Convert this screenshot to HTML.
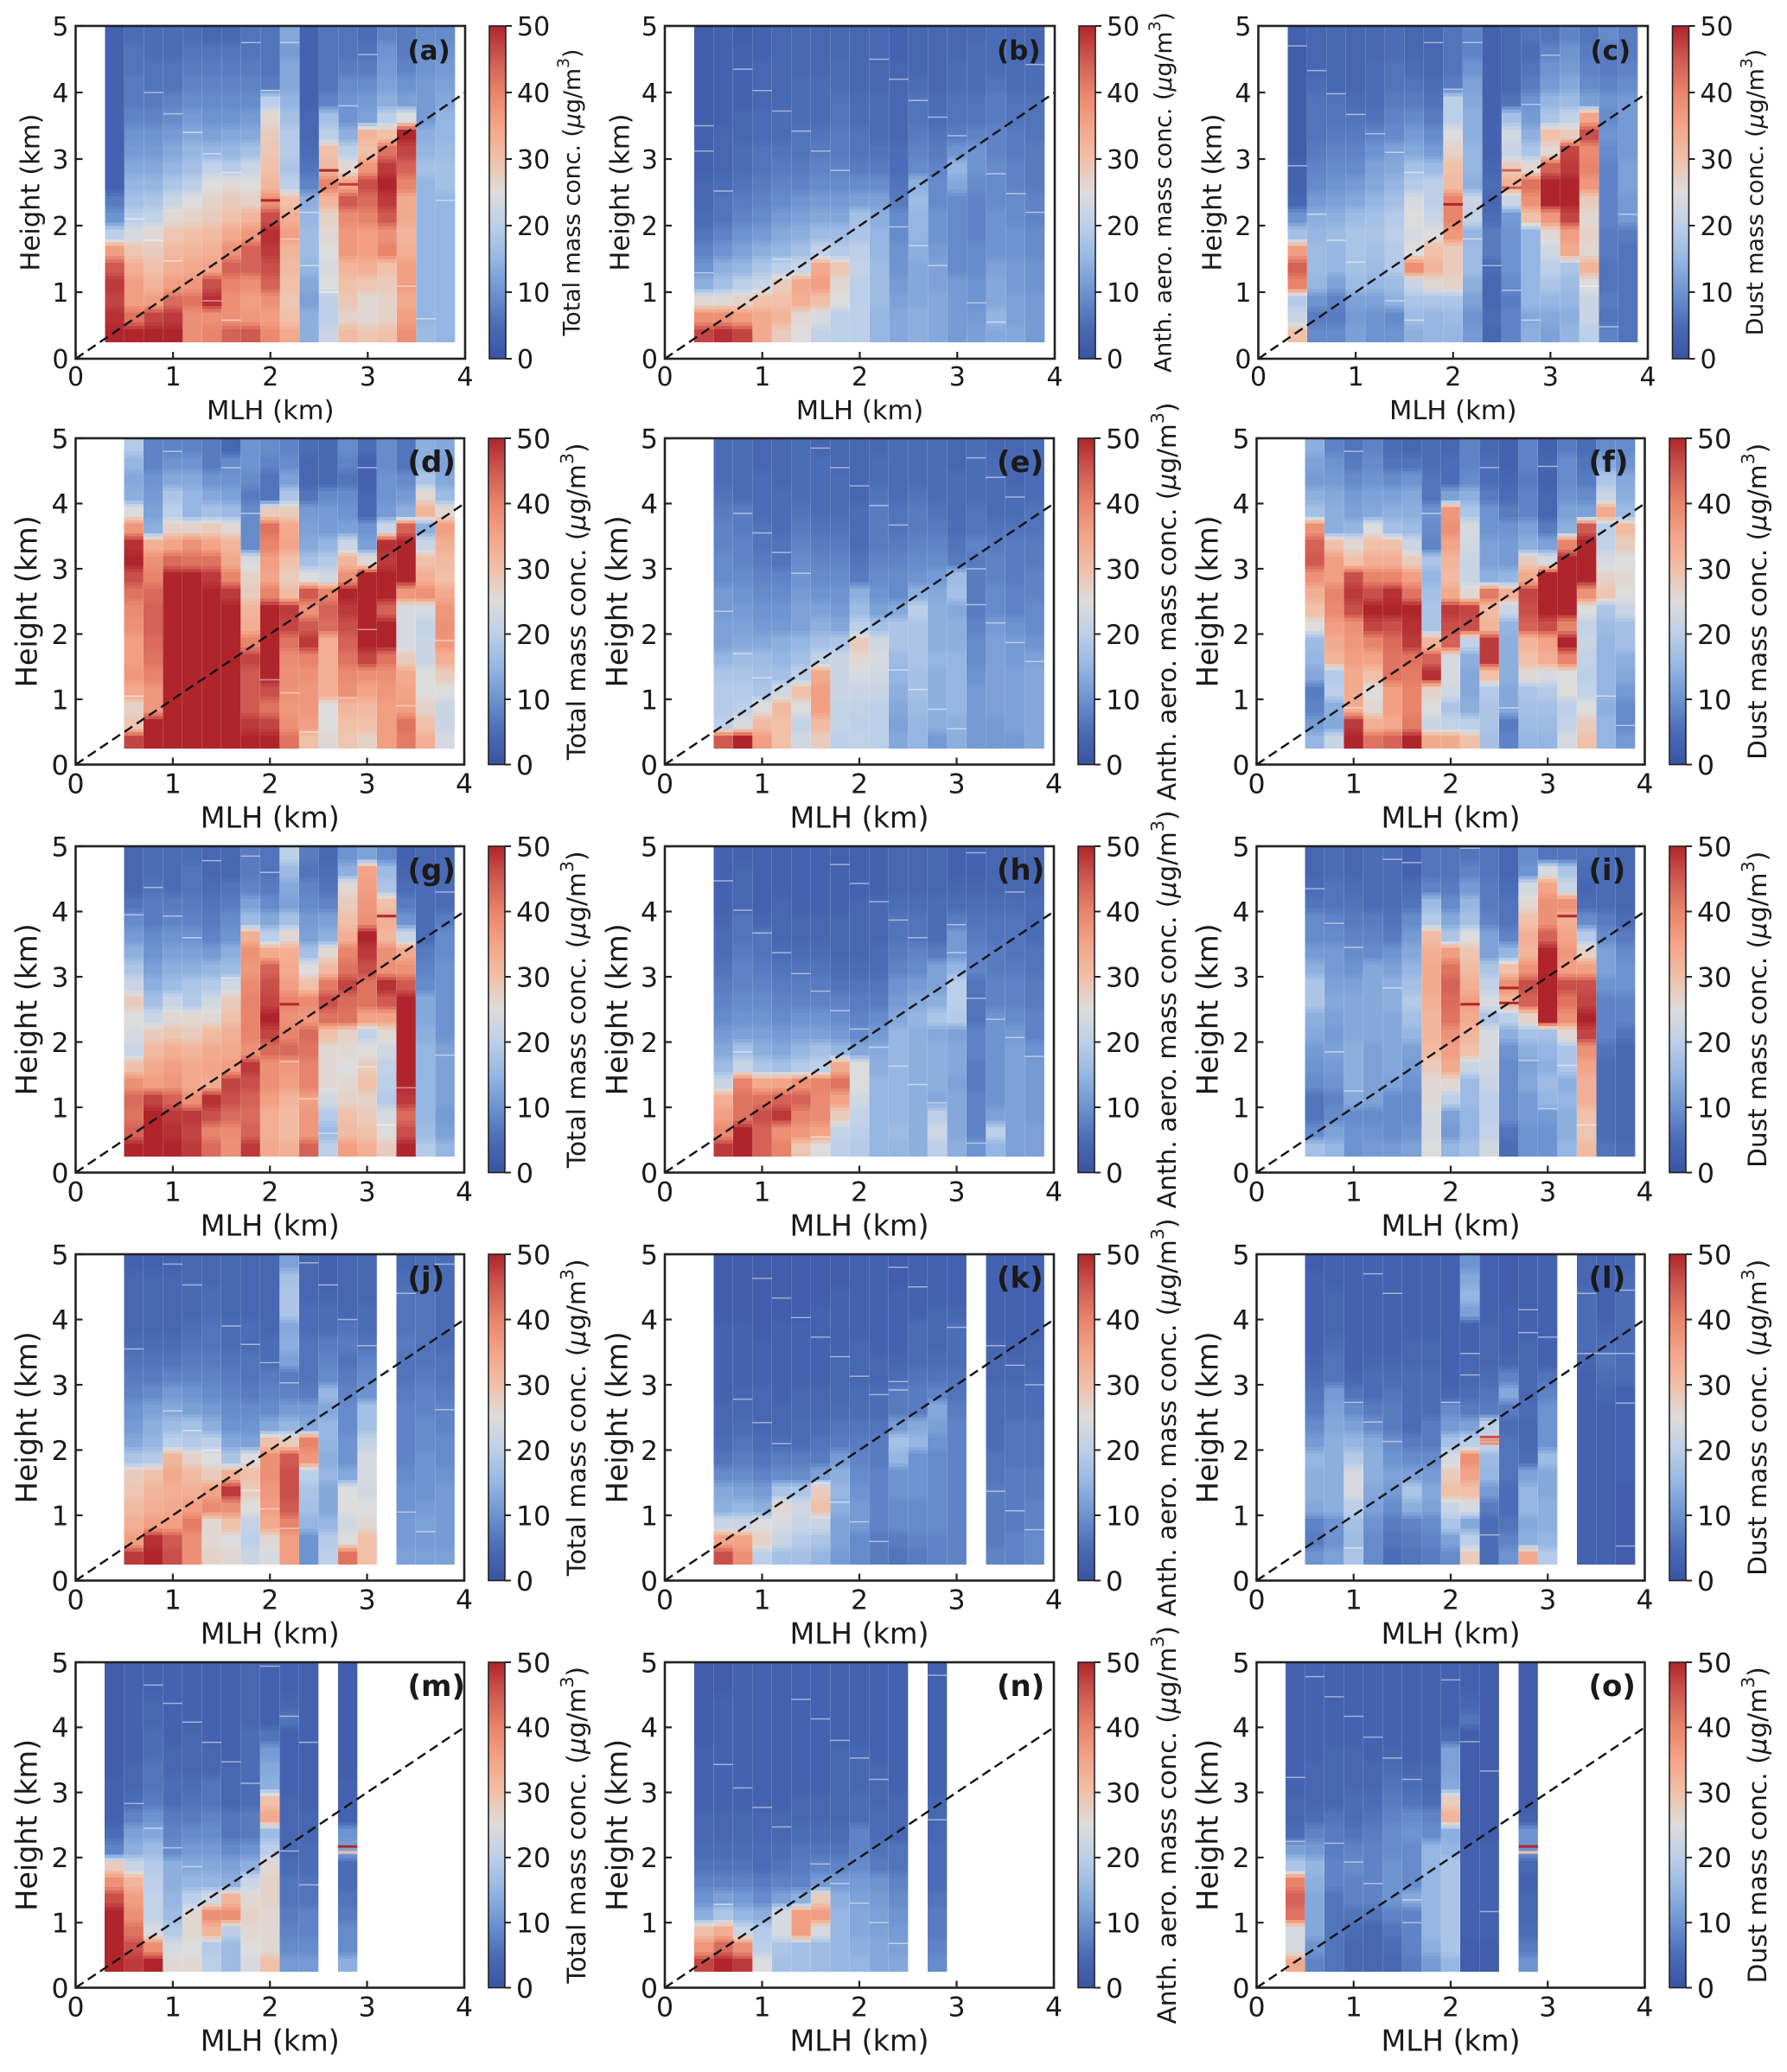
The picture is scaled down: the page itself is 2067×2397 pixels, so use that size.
<!DOCTYPE html>
<html lang="en">
<head>
<meta charset="utf-8">
<title>Mass concentration versus MLH and height</title>
<style>
html,body{margin:0;padding:0;background:#fff;}
svg{display:block;}
text{font-family:"DejaVu Sans","Liberation Sans",sans-serif;fill:#1a1a1a;}
</style>
</head>
<body>
<svg id="figure" xmlns="http://www.w3.org/2000/svg" width="2067" height="2397" viewBox="0 0 2067 2397"></svg>
<script>
// Axis categories (km)
const mlhCenters = [0.4,0.6,0.8,1.0,1.2,1.4,1.6,1.8,2.0,2.2,2.4,2.6,2.8,3.0,3.2,3.4,3.6,3.8];
const heightBins = [0.25,0.5,0.75,1.0,1.25,1.5,1.75,2.0,2.25,2.5,2.75,3.0,3.25,3.5,3.75,4.0,4.25,4.5,4.75];
const xTicks = [0,1,2,3,4];
const yTicks = [0,1,2,3,4,5];
const colorbarTicks = [0,10,20,30,40,50];
const refLine = [0,4];

// Each panel: one array per MLH column, values listed from lowest height bin to highest (µg/m3)
const panelA = [
[50,49,47,48,45,36,20,10,7,3,3,3,3,3,3,3,3,3,3],
[50,42,36,36,33,29,24,20,17,15,13,11,10,8,7,7,6,6,5],
[50,47,36,32,30,28,26,21,18,15,13,11,10,8,7,6,6,5,5],
[50,48,43,36,33,31,29,26,22,18,15,13,11,9,8,6,6,5,5],
[38,38,42,37,34,32,30,27,25,20,17,15,13,11,9,8,7,6,5],
[40,38,49,46,35,33,31,28,27,25,21,15,12,10,9,8,7,6,4],
[44,38,38,40,44,38,34,30,28,26,19,15,13,10,9,8,7,6,4],
[45,37,36,38,44,44,37,32,27,25,22,17,13,11,9,8,7,6,6],
[39,36,38,44,46,48,49,46,38,32,30,29,28,26,20,7,6,6,6],
[34,30,29,30,31,32,36,33,30,20,18,19,19,17,15,13,13,11,13],
[14,14,12,13,15,16,16,15,14,8,6,5,4,4,3,3,3,3,3],
[22,20,20,25,24,25,26,27,32,40,31,30,20,17,8,6,6,6,6],
[31,27,29,30,32,37,37,39,45,35,26,20,14,10,10,9,7,6,6],
[29,26,26,29,33,36,36,40,43,46,37,30,32,12,11,9,7,6,5],
[30,27,27,28,30,40,38,45,48,50,48,42,30,20,14,12,11,10,8],
[38,36,34,36,36,33,32,34,34,40,44,47,50,25,12,10,8,7,7],
[16,15,15,15,15,15,15,15,15,15,17,15,14,11,11,11,10,10,9],
[15,15,15,15,15,15,15,15,15,17,17,16,15,15,13,12,11,10,9]];
const panelB = [
[47,38,26,14,10,8,6,5,4,4,3,3,3,2,2,2,2,2,2],
[49,38,26,17,14,10,8,6,6,5,4,4,4,3,3,3,3,3,3],
[47,36,27,20,15,12,10,8,7,6,5,5,4,4,3,3,3,3,2],
[34,34,30,22,18,14,11,9,8,7,6,6,5,5,4,4,4,3,3],
[28,32,30,28,20,15,13,11,9,8,7,6,5,5,4,4,4,4,4],
[25,26,33,34,22,17,14,12,10,8,7,6,6,5,5,5,4,4,4],
[21,24,30,36,34,21,16,13,11,9,8,7,6,5,5,5,4,4,4],
[20,20,25,26,29,19,16,13,11,9,8,7,7,6,6,5,5,4,4],
[20,20,20,20,21,20,18,17,12,9,7,6,6,5,5,4,4,4,4],
[15,15,16,16,16,15,15,14,12,9,7,6,5,5,5,4,4,4,4],
[13,13,12,11,10,10,9,9,7,6,5,5,4,4,4,4,4,3,3],
[14,14,13,13,13,14,15,15,16,14,9,8,7,6,6,5,4,4,4],
[13,13,13,12,12,11,10,10,9,9,8,7,6,5,5,4,4,4,4],
[11,11,11,11,9,9,9,9,9,13,15,10,7,6,6,5,5,4,4],
[12,11,10,10,9,9,8,8,8,9,10,10,8,6,6,5,5,5,4],
[13,15,13,13,12,10,10,10,9,9,9,8,8,7,7,6,5,5,5],
[13,12,12,11,11,10,10,9,9,8,8,7,7,6,6,5,5,5,4],
[11,11,11,10,10,9,9,8,8,7,7,7,6,6,6,5,5,4,4]];
const panelC = [
[30,22,19,40,44,36,17,10,4,3,3,2,2,2,2,2,2,2,3],
[9,7,10,15,16,16,15,14,11,9,8,7,6,6,6,5,4,4,4],
[9,7,8,12,15,15,16,14,12,10,9,8,7,6,6,4,4,4,4],
[12,11,12,16,17,18,18,16,13,11,9,8,7,6,5,4,4,4,4],
[10,10,12,15,16,17,18,17,15,13,12,10,8,6,5,5,5,4,4],
[10,9,14,16,19,19,20,19,17,15,13,12,9,8,7,6,6,5,5],
[14,16,18,22,38,25,24,25,24,19,17,13,11,9,7,6,5,4,4],
[15,15,18,26,32,30,25,22,20,20,16,11,9,7,6,5,4,4,4],
[15,16,18,27,28,28,37,40,40,31,30,27,25,20,20,7,6,6,6],
[11,10,12,14,16,16,15,21,22,14,15,15,14,14,13,12,10,8,8],
[4,5,4,4,5,7,7,5,4,5,4,3,3,3,3,3,3,3,3],
[8,8,7,9,10,10,10,11,22,33,28,22,23,17,6,4,4,4,4],
[14,13,15,15,15,15,15,30,38,42,26,18,14,11,10,7,6,5,6],
[12,13,15,18,20,23,26,37,50,50,44,26,30,18,15,11,10,8,6],
[15,14,15,16,18,34,36,47,50,50,48,47,28,21,16,13,11,10,8],
[20,22,22,25,32,26,27,26,28,37,40,39,46,35,12,9,8,7,6],
[8,6,7,6,6,7,7,8,8,8,8,9,10,9,10,8,7,7,9],
[6,6,6,6,6,6,7,11,11,12,12,11,11,11,11,9,8,7,7]];
const panelD = [
null,
[47,29,27,34,37,36,36,38,39,42,46,50,49,37,25,14,13,15,19],
[50,50,37,37,40,42,43,44,44,43,40,38,33,14,12,11,10,8,8],
[50,50,50,50,50,50,50,50,50,50,50,43,35,27,20,18,13,10,8],
[50,50,50,50,50,50,50,50,50,50,50,42,38,27,15,15,13,10,8],
[50,50,50,50,50,50,50,50,50,50,48,42,35,28,17,13,10,7,7],
[50,50,50,50,50,50,50,50,50,48,40,34,32,26,16,12,10,9,4],
[50,48,45,45,45,47,40,33,32,28,27,24,9,9,9,7,9,10,10],
[50,47,42,46,50,50,50,50,50,40,35,36,40,42,28,6,6,8,9],
[42,38,37,38,38,39,42,47,48,31,28,30,35,34,28,18,12,9,8],
[30,36,37,37,38,40,48,45,38,45,25,17,13,12,11,6,4,4,5],
[26,25,25,33,33,33,33,43,44,40,23,19,15,11,11,9,4,4,4],
[29,30,32,38,39,42,44,46,48,50,38,32,22,12,10,9,6,8,9],
[27,30,31,35,38,47,50,50,50,50,50,26,12,10,4,4,3,3,5],
[36,36,36,37,38,42,50,50,44,50,50,48,49,22,11,10,10,9,9],
[41,42,36,35,34,28,24,24,24,37,50,50,50,44,14,11,9,6,6],
[33,30,27,25,25,22,22,21,24,38,33,30,22,14,32,26,18,14,14],
[24,22,22,25,28,33,37,38,37,34,30,31,33,36,26,16,13,12,13]];
const panelE = [
null,
[45,20,19,19,18,15,12,12,11,11,9,9,8,8,7,6,5,5,5],
[50,24,20,19,18,16,13,12,11,10,9,8,8,7,7,5,5,5,5],
[36,31,25,18,17,16,13,11,10,9,8,7,6,6,5,5,5,4,4],
[30,30,31,23,17,15,14,11,10,9,8,6,6,5,5,5,4,4,4],
[23,21,25,30,20,17,15,12,12,11,10,9,8,7,6,5,5,5,5],
[28,31,36,36,34,21,17,14,12,10,9,8,7,6,5,5,5,5,4],
[20,21,21,22,22,22,18,13,11,10,9,8,7,6,5,5,5,4,4],
[21,20,21,22,24,26,28,20,16,14,7,6,5,5,5,4,4,4,4],
[20,20,20,22,23,24,23,17,12,10,9,8,7,7,7,6,5,5,4],
[13,12,13,14,15,16,18,18,13,9,9,8,7,6,6,5,5,5,5],
[15,15,16,17,17,18,18,18,20,14,10,9,8,7,7,6,5,5,5],
[11,14,14,14,14,15,14,14,14,13,11,9,8,7,6,5,5,5,5],
[14,14,15,15,15,15,14,14,13,17,16,7,6,5,5,5,5,4,4],
[11,11,11,11,10,9,9,8,7,7,7,7,8,6,6,5,5,5,5],
[11,11,12,12,12,12,12,11,9,9,8,8,7,6,5,5,5,5,4],
[11,12,12,12,12,11,11,10,8,8,7,7,7,6,5,5,4,4,4],
[13,13,13,13,13,12,10,9,9,8,8,7,7,6,6,5,5,5,5]];
const panelF = [
null,
[15,11,8,7,13,15,16,25,30,33,38,45,44,38,17,14,11,12,14],
[22,13,14,20,19,32,34,36,39,40,36,36,30,14,14,13,11,10,8],
[50,48,34,34,34,36,37,38,46,48,46,30,26,15,12,11,9,7,6],
[42,33,26,25,30,35,40,47,50,46,40,33,30,25,13,12,10,9,8],
[44,34,36,36,42,42,43,46,50,49,40,33,30,17,14,12,9,6,5],
[50,41,40,40,41,42,48,49,50,42,36,28,22,16,14,13,10,6,4],
[34,22,25,27,49,44,32,18,18,17,15,18,8,9,10,6,6,5,5],
[34,21,18,23,24,24,44,46,48,34,31,32,35,38,37,12,5,5,4],
[30,20,14,13,13,14,21,46,47,26,22,22,23,24,18,14,9,8,8],
[17,18,18,19,30,48,48,32,31,41,14,12,12,10,10,7,5,5,4],
[8,7,13,13,14,14,14,15,22,33,15,11,11,10,7,5,4,3,3],
[15,16,17,18,26,30,32,44,46,47,34,28,14,12,8,8,7,8,8],
[15,16,17,19,24,33,35,46,50,50,50,24,12,7,4,4,3,4,3],
[24,21,20,25,25,40,50,40,50,50,50,50,40,14,12,10,9,9,7],
[30,28,25,21,20,21,22,21,25,38,50,50,50,45,12,9,7,6,5],
[15,15,14,15,15,15,15,16,18,29,27,24,21,20,34,22,18,13,9],
[11,9,9,11,13,14,17,17,22,25,26,25,28,31,16,14,13,10,9]];
const panelG = [
null,
[50,44,42,43,38,30,22,24,25,28,22,18,14,11,9,6,4,4,4],
[50,50,50,47,36,34,31,28,22,17,14,12,10,9,7,7,6,5,5],
[50,49,48,44,37,36,33,29,26,22,16,14,12,10,8,7,5,5,5],
[48,47,48,38,34,34,32,28,26,19,18,14,12,10,8,7,6,6,5],
[43,40,46,49,34,35,34,31,26,23,19,15,11,8,7,6,5,4,4],
[38,39,43,46,47,36,34,33,30,28,23,16,14,10,9,7,6,4,4],
[48,44,43,44,46,48,38,40,40,40,39,37,38,33,16,12,8,7,7],
[34,33,33,36,38,38,43,47,50,47,46,44,34,20,13,9,7,6,6],
[33,31,31,32,36,37,43,40,38,40,36,34,33,26,17,12,13,16,20],
[44,37,37,36,40,40,42,43,37,39,30,25,17,12,11,9,8,6,7],
[20,16,19,23,26,26,26,30,42,46,41,31,26,14,12,8,6,5,4],
[36,31,30,27,26,25,26,27,42,43,47,42,40,33,30,28,26,14,10],
[33,30,28,27,30,28,25,21,35,42,42,46,48,50,38,37,36,35,12],
[28,25,24,19,20,21,23,26,35,45,49,38,38,32,33,30,18,16,9],
[50,46,43,48,50,50,50,50,50,50,45,38,34,22,10,7,5,4,3],
[19,16,15,15,15,15,15,14,13,13,9,8,7,5,5,5,5,4,4],
[15,12,11,12,12,12,12,10,10,10,10,10,9,9,7,5,5,5,4]];
const panelH = [
null,
[48,39,36,33,22,16,13,11,9,8,7,6,5,5,4,3,3,3,3],
[50,50,42,42,40,22,17,12,10,9,8,8,7,6,6,4,4,4,3],
[44,44,46,42,34,18,14,12,10,9,8,7,6,6,4,3,3,3,3],
[40,38,48,44,35,17,13,11,9,8,7,6,5,4,4,4,3,3,3],
[29,37,40,44,38,19,15,12,10,8,7,6,5,4,4,3,3,3,3],
[25,35,39,39,40,20,17,12,10,8,7,6,5,4,4,3,3,3,3],
[20,21,28,35,42,34,15,11,9,8,6,5,4,4,4,3,3,3,3],
[19,20,21,23,25,25,13,9,8,7,6,5,4,4,4,4,3,3,3],
[15,15,15,15,15,14,13,11,9,7,6,5,5,4,4,4,3,3,3],
[15,16,15,15,15,15,15,15,13,11,10,8,7,6,6,5,4,4,4],
[14,14,14,14,14,14,14,14,15,13,11,9,8,6,6,5,4,4,4],
[20,23,20,13,14,14,14,13,18,14,12,12,7,5,5,5,4,4,4],
[14,13,13,13,12,13,13,12,19,20,20,15,11,11,7,5,4,3,3],
[10,8,8,8,7,7,8,8,6,6,6,8,8,7,6,5,4,3,3],
[15,20,12,10,10,10,10,10,10,8,8,7,7,6,6,5,4,4,4],
[12,12,12,12,12,12,12,11,9,8,8,7,6,6,6,5,4,4,4],
[12,12,11,11,11,11,10,8,8,7,7,6,6,5,5,5,4,4,4]];
const panelI = [
null,
[17,9,6,6,9,10,11,13,14,18,18,14,11,9,9,6,5,4,4],
[15,12,9,8,10,11,12,11,12,13,12,11,11,9,8,6,6,5,5],
[10,10,9,13,14,14,14,13,13,13,12,10,9,8,7,6,5,4,4],
[11,10,9,12,12,12,12,13,13,13,13,13,9,8,7,5,5,5,5],
[11,9,9,9,12,13,13,13,13,14,14,12,10,7,6,5,5,5,5],
[12,10,9,9,10,11,12,15,17,19,17,15,13,11,9,6,5,3,3],
[25,24,24,26,26,28,31,32,32,33,34,34,33,31,19,16,8,6,6],
[15,11,12,20,26,34,36,38,42,43,44,42,36,18,13,9,7,6,6],
[17,15,15,16,16,22,30,32,34,36,33,31,29,25,17,15,11,8,6],
[23,21,20,20,22,23,24,24,18,24,21,18,12,12,8,7,7,6,6],
[5,6,9,9,9,9,10,14,20,32,38,30,15,8,6,6,5,4,4],
[10,10,11,11,13,12,14,17,27,44,46,38,32,33,30,26,23,10,9],
[10,10,11,15,16,14,15,17,50,50,50,50,50,44,38,38,35,24,6],
[15,14,14,15,14,18,18,26,38,42,46,36,37,35,33,38,22,18,6],
[31,29,30,33,33,35,38,47,50,47,46,36,27,19,9,5,4,5,6],
[6,5,5,5,5,5,6,8,8,8,10,12,12,9,7,5,5,5,5],
[5,4,4,4,4,4,4,6,8,8,10,10,9,7,5,4,4,4,4]];
const panelJ = [
null,
[48,36,33,31,29,28,18,13,11,10,8,7,6,5,4,4,4,4,3],
[50,49,36,33,32,30,19,15,14,12,9,7,6,5,4,4,4,4,3],
[46,45,36,34,33,34,32,20,16,13,11,8,6,5,4,4,4,4,3],
[38,38,41,36,33,31,27,19,17,12,10,8,7,6,5,4,4,4,4],
[27,26,26,39,35,28,25,20,14,11,9,8,7,6,6,5,5,4,4],
[26,25,30,38,48,33,18,13,10,9,8,7,6,5,5,4,4,4,4],
[22,20,21,25,28,30,25,12,10,9,7,6,6,5,5,4,4,4,4],
[24,26,34,36,37,38,38,30,13,9,8,7,5,5,4,4,4,4,4],
[36,36,40,45,46,46,45,28,15,11,8,7,12,14,13,18,18,17,12],
[10,10,15,17,18,20,37,40,13,11,7,6,6,6,5,5,4,4,4],
[20,19,15,13,13,15,14,15,15,13,15,9,8,7,5,5,4,3,3],
[42,25,23,25,25,13,10,10,9,9,8,7,6,7,6,4,4,4,4],
[30,30,26,25,23,24,24,21,17,17,10,9,8,6,5,5,4,4,4],
null,
[12,11,11,10,10,9,8,8,8,8,7,6,6,7,6,6,6,5,4],
[12,11,12,11,10,10,10,9,9,8,8,7,6,6,6,6,6,6,5],
[12,11,11,11,11,10,9,9,8,8,7,6,6,5,5,5,5,5,5]];
const panelK = [
null,
[46,35,22,14,13,9,6,5,4,4,3,3,3,3,3,2,2,2,2],
[38,35,22,15,12,9,7,6,5,4,4,3,3,3,3,2,2,2,2],
[20,27,25,14,11,8,6,5,4,4,4,3,3,3,2,2,2,2,2],
[17,22,24,26,18,9,7,5,4,4,3,3,3,3,3,2,2,2,2],
[17,19,22,23,18,9,7,5,5,4,4,3,3,3,3,2,2,2,2],
[15,18,22,30,28,12,7,6,5,4,4,3,3,3,3,3,2,2,2],
[11,12,12,14,15,14,11,7,6,5,4,4,4,3,3,3,3,2,2],
[9,9,11,11,10,9,8,7,6,5,5,4,4,4,3,3,3,3,3],
[7,7,8,8,8,8,7,7,6,5,5,4,4,3,3,3,3,3,3],
[6,7,9,9,10,10,15,17,11,7,7,5,4,3,3,3,3,2,2],
[7,8,9,9,10,10,10,15,13,7,7,6,5,5,5,3,3,3,3],
[8,8,9,9,9,9,9,10,12,13,8,6,5,4,4,4,3,3,3],
[8,8,8,8,8,8,8,8,8,7,6,6,5,5,5,4,3,3,3],
null,
[8,7,7,7,7,6,6,5,5,5,5,4,4,4,3,3,3,3,3],
[8,8,7,7,7,7,6,6,6,5,5,4,4,3,3,3,3,3,3],
[9,9,8,8,7,7,6,6,6,5,5,5,4,4,3,3,3,3,3]];
const panelL = [
null,
[10,7,8,13,14,14,15,11,9,7,6,5,4,3,3,3,3,3,2],
[12,10,10,14,14,14,14,14,13,12,11,6,6,5,4,4,4,3,3],
[18,16,17,20,24,24,19,15,12,9,6,4,3,3,3,3,3,3,3],
[9,9,10,12,13,14,14,13,9,7,5,5,4,3,3,3,3,3,3],
[5,6,7,9,11,12,10,9,7,7,6,5,4,3,3,3,3,3,3],
[6,7,8,14,18,12,9,7,5,5,5,5,4,4,3,3,3,3,3],
[7,8,9,12,13,11,9,7,7,5,5,5,4,4,3,3,3,3,3],
[9,12,18,22,30,28,24,17,11,9,4,3,3,3,3,3,3,3,3],
[28,20,13,24,30,35,38,20,12,7,5,4,4,3,3,12,15,13,10],
[5,5,5,7,11,15,16,22,20,7,6,5,4,4,4,3,3,3,3],
[10,8,6,5,5,6,6,6,5,7,13,8,4,3,3,3,2,2,2],
[34,14,13,15,15,12,5,4,4,5,4,4,4,4,3,3,3,3,3],
[19,15,14,14,13,13,16,10,10,10,8,6,3,3,3,3,3,3,3],
null,
[3,3,3,3,3,3,3,3,3,3,3,3,4,5,5,5,5,4,4],
[3,3,3,3,3,3,3,3,3,3,4,5,6,5,4,3,3,3,3],
[2,2,2,2,2,3,3,3,3,3,3,5,5,5,5,5,5,5,4]];
const panelM = [
[50,50,50,50,46,38,28,8,5,3,3,3,2,2,2,2,2,2,2],
[48,46,42,38,36,32,22,14,12,8,5,4,4,3,3,3,3,3,3],
[50,38,24,21,21,20,19,16,13,10,7,6,6,5,5,4,4,3,3],
[26,24,19,16,15,14,14,9,8,7,5,5,4,4,3,3,3,3,3],
[26,25,26,26,20,15,13,11,9,7,6,5,4,4,4,3,3,3,3],
[20,19,32,38,23,15,13,11,9,8,6,6,4,4,3,3,3,3,3],
[16,16,20,38,32,14,12,9,6,6,4,4,4,3,3,3,3,3,3],
[24,25,26,27,26,22,14,10,7,7,5,5,5,5,5,4,4,4,4],
[30,26,26,26,27,27,26,20,16,34,30,14,13,11,6,3,3,3,3],
[11,9,8,7,6,6,5,4,4,4,4,3,3,3,3,6,4,3,3],
[11,9,8,8,6,6,5,5,4,4,3,3,3,3,3,3,3,3,3],
null,
[14,9,9,7,6,5,5,12,10,3,3,3,2,2,2,2,2,2,2],
null,null,null,null,null];
const panelN = [
[47,37,30,14,10,8,6,5,4,4,3,3,3,3,2,2,2,2,2],
[50,43,33,18,12,8,6,5,4,4,3,3,3,3,3,3,3,2,2],
[48,38,22,15,11,8,6,5,4,4,3,3,3,3,3,3,3,3,3],
[25,20,19,14,9,7,5,5,4,4,3,3,3,3,3,3,3,3,3],
[17,18,24,24,12,8,6,5,4,4,3,3,3,3,3,3,3,3,3],
[17,17,36,36,14,8,7,6,5,4,4,3,3,3,3,3,3,3,3],
[16,16,24,36,28,11,8,6,5,4,4,3,3,3,3,3,3,3,3],
[15,15,15,15,14,11,8,6,5,4,4,4,4,4,3,3,3,3,3],
[15,14,13,13,12,11,9,8,8,5,5,4,4,4,3,3,3,3,3],
[13,13,12,12,11,10,7,6,5,5,4,4,4,3,3,3,3,3,3],
[13,12,11,10,9,8,6,6,4,4,4,3,3,3,3,3,3,3,3],
null,
[9,8,7,7,6,5,5,5,4,4,4,3,3,3,3,3,3,3,3],
null,null,null,null,null];
const panelO = [
[34,24,24,42,44,40,18,12,5,4,4,3,3,3,3,3,3,3,3],
[8,10,13,13,13,14,15,11,8,5,4,4,4,3,3,3,3,3,3],
[6,6,6,6,6,8,8,7,7,6,4,4,4,4,3,3,3,3,3],
[4,4,5,6,8,8,9,8,6,5,5,4,4,4,3,3,3,3,3],
[4,4,4,6,8,8,8,8,7,6,5,4,4,3,3,3,3,3,3],
[4,5,6,8,10,10,10,9,9,8,7,6,5,4,3,3,3,3,3],
[7,8,8,8,13,9,9,9,10,9,6,5,4,3,3,3,3,3,3],
[11,14,15,15,15,15,15,15,9,8,5,4,4,3,3,3,3,3,3],
[15,18,18,18,18,18,18,15,14,32,28,13,12,12,5,3,3,3,3],
[2,2,3,3,3,3,3,3,2,2,2,2,2,2,2,6,4,3,3],
[2,2,3,3,3,3,3,3,2,2,2,2,2,2,2,2,2,2,2],
null,
[10,7,5,4,4,3,4,10,10,3,2,2,2,2,2,2,2,2,2],
null,null,null,null,null];

// Thin pale lines visible in each panel: [MLH km, height km]
const paleLinesA = [[0.6,2.1],[0.8,4.0],[0.8,1.78],[1.0,3.68],[1.0,1.47],[1.2,3.4],[1.4,3.08],[1.4,0.87],[1.6,2.8],[1.6,0.58],[1.8,4.75],[2.0,4.03],[2.2,4.75],[2.2,1.8],[2.4,1.4],[2.4,2.2],[2.6,1.0],[2.8,3.8],[3.0,4.57],[3.4,1.09],[3.6,0.6],[3.8,2.38]];
const paleLinesB = [[0.4,3.5],[0.4,3.12],[0.4,1.29],[0.6,2.52],[0.8,4.35],[1.0,4.03],[1.2,3.72],[1.2,1.5],[1.4,3.42],[1.6,3.12],[1.8,2.83],[2.2,4.5],[2.4,4.2],[2.4,1.98],[2.6,3.88],[2.6,1.7],[2.8,3.63],[2.8,1.4],[3.0,3.35],[3.2,0.84],[3.4,2.78],[3.4,0.55],[3.6,2.48],[3.8,4.42],[3.8,2.2]];
const paleLinesC = [[0.4,4.7],[0.4,2.9],[0.6,4.33],[0.6,2.17],[0.8,3.98],[0.8,1.78],[1.0,3.67],[1.0,1.45],[1.2,3.38],[1.4,3.1],[1.4,0.87],[1.6,2.8],[1.6,0.58],[1.8,4.75],[2.0,4.05],[2.2,4.75],[2.2,1.8],[2.4,1.4],[2.6,1.03],[2.8,3.82],[2.8,0.58],[3.0,4.56],[3.4,1.09],[3.6,0.48],[3.8,2.17]];
const paleLinesD = [[0.6,1.05],[1.0,4.8],[1.6,4.55],[1.8,3.85],[2.0,1.3],[2.2,1.1],[2.4,0.5],[2.8,1.02],[3.0,4.55],[3.0,2.07],[3.4,0.9],[3.8,1.9]];
const paleLinesE = [[0.6,2.35],[0.8,3.85],[0.8,1.7],[1.0,3.55],[1.0,1.33],[1.2,3.25],[1.4,2.93],[1.6,4.85],[1.8,4.55],[2.0,4.27],[2.2,3.97],[2.4,3.67],[2.4,1.45],[2.6,1.15],[2.8,0.85],[3.0,0.55],[3.2,4.7],[3.2,3.0],[3.2,2.45],[3.4,4.4],[3.4,2.17],[3.6,4.1],[3.6,1.87],[3.8,1.58]];
const paleLinesF = [[1.0,4.8],[1.0,0.87],[1.8,3.85],[2.4,4.55],[2.6,0.87],[3.0,4.57],[3.6,1.05],[3.8,0.6]];
const paleLinesG = [[0.6,3.95],[0.8,4.37],[1.0,3.93],[1.2,3.6],[1.4,4.78],[1.6,2.98],[1.8,4.85],[2.0,4.6],[2.2,1.7],[2.4,1.13],[2.6,0.6],[3.0,1.62],[3.2,0.73],[3.4,1.3],[3.8,4.3],[3.8,1.8]];
const paleLinesH = [[0.6,4.47],[0.8,4.02],[0.8,1.85],[1.0,3.67],[1.2,3.37],[1.4,3.05],[1.6,2.78],[1.6,0.55],[1.8,4.72],[1.8,2.48],[2.0,4.43],[2.0,2.2],[2.2,4.15],[2.2,1.92],[2.4,3.87],[2.4,1.63],[2.6,3.6],[2.6,1.35],[2.8,1.07],[3.0,3.8],[3.0,3.37],[3.2,4.9],[3.2,2.67],[3.2,0.45],[3.4,2.35],[3.6,4.3],[3.6,2.07],[3.8,1.78]];
const paleLinesI = [[0.6,4.35],[0.8,3.82],[0.8,1.85],[1.0,3.45],[1.0,1.25],[1.4,4.8],[1.4,2.83],[1.6,4.75],[2.2,4.97],[2.8,1.72],[3.0,0.98],[3.2,1.64],[3.4,0.73]];
const paleLinesJ = [[0.6,3.55],[1.0,4.85],[1.0,2.6],[1.2,4.53],[1.2,2.3],[1.4,2.0],[1.6,3.9],[1.8,3.62],[1.8,1.38],[2.0,3.34],[2.0,1.1],[2.2,3.03],[2.2,0.8],[2.4,4.87],[2.6,4.53],[2.8,4.0],[3.0,3.6],[3.4,4.4],[3.4,1.05],[3.6,0.75],[3.8,4.85],[3.8,2.62]];
const paleLinesK = [[0.8,2.78],[1.0,4.63],[1.0,2.42],[1.2,4.33],[1.2,2.1],[1.4,4.03],[1.6,3.73],[1.6,1.5],[1.8,3.43],[1.8,1.2],[2.0,3.13],[2.0,0.9],[2.2,2.85],[2.2,0.6],[2.4,4.8],[2.4,3.05],[2.4,2.92],[2.6,4.5],[3.0,3.88],[3.4,3.6],[3.4,1.37],[3.6,3.3],[3.6,1.07],[3.8,3.0],[3.8,0.78]];
const paleLinesL = [[1.0,2.73],[1.0,0.5],[1.2,4.7],[1.2,2.43],[1.4,4.4],[1.4,2.13],[2.0,2.73],[2.2,3.48],[2.2,3.15],[2.4,0.7],[2.8,4.15],[2.8,3.8],[3.0,3.73],[3.4,4.4],[3.8,4.45],[3.8,2.72],[3.8,0.53],[3.4,3.48],[3.6,3.48],[3.8,3.48]];
const paleLinesM = [[0.6,2.83],[0.8,4.65],[0.8,2.45],[1.0,4.37],[1.0,2.15],[1.2,4.08],[1.2,1.86],[1.4,3.77],[1.6,3.47],[1.8,3.14],[2.0,4.94],[2.2,4.17],[2.2,2.1],[2.4,3.77],[2.4,1.58]];
const paleLinesN = [[0.6,3.43],[0.6,1.28],[0.8,3.07],[1.0,2.77],[1.2,2.47],[1.4,4.43],[1.6,4.13],[1.6,1.9],[1.8,3.8],[1.8,1.6],[2.0,3.53],[2.0,1.3],[2.2,3.2],[2.2,1.0],[2.4,0.68],[2.8,4.8],[2.8,2.58]];
const paleLinesO = [[0.4,3.23],[0.4,2.25],[0.6,4.78],[0.8,4.47],[0.8,2.22],[1.0,4.17],[1.0,1.93],[1.2,3.85],[1.2,1.6],[1.4,3.53],[1.6,3.2],[1.6,1.35],[1.6,1.0],[2.0,4.73],[2.2,3.78],[2.4,3.33],[2.4,1.17]];

// Narrow high-concentration layers: [MLH km, height km, value]
const layersA = [[2.6,2.83,50],[2.8,2.62,48],[2.0,2.38,50]];
const layersC = [[2.6,2.83,44],[2.6,2.57,44],[2.0,2.32,50]];
const layersG = [[3.2,3.93,50],[2.2,2.58,50]];
const layersI = [[3.2,3.93,50],[2.6,2.6,50],[2.2,2.58,50],[2.6,2.83,50]];
const layersL = [[2.4,2.2,46],[2.4,2.15,38],[2.4,2.1,38]];
const layersM = [[2.8,2.17,50],[2.8,2.08,30]];
const layersO = [[2.8,2.17,50],[2.8,2.08,30]];

const panelSeries = [panelA,panelB,panelC,panelD,panelE,panelF,panelG,panelH,panelI,panelJ,panelK,panelL,panelM,panelN,panelO];
const panelPaleLines = [paleLinesA,paleLinesB,paleLinesC,paleLinesD,paleLinesE,paleLinesF,paleLinesG,paleLinesH,paleLinesI,paleLinesJ,paleLinesK,paleLinesL,paleLinesM,paleLinesN,paleLinesO];
const panelLayers = [layersA,[],layersC,[],[],[],layersG,[],layersI,[],[],layersL,layersM,[],layersO];
const panelLetters = ['(a)','(b)','(c)','(d)','(e)','(f)','(g)','(h)','(i)','(j)','(k)','(l)','(m)','(n)','(o)'];
const colorbarTitles = ['Total mass conc. ','Anth. aero. mass conc. ','Dust mass conc. '];

const mlhBinWidth = 0.2;
const heightBinWidth = 0.25;
const xMax = 4;
const yMax = 5;
const valueMax = 50;

// Colour scale (value, colour)
const colorStops = [[0,'#3a53a4'],[5,'#4b6cb6'],[10,'#6d93d0'],[15,'#95b6e2'],[20,'#bccfe9'],[25,'#dcdcdc'],[30,'#f0c0a8'],[35,'#f3a488'],[40,'#e8846a'],[45,'#cf5a52'],[50,'#b0252c']];

function hexToRgb(h){return [parseInt(h.slice(1,3),16),parseInt(h.slice(3,5),16),parseInt(h.slice(5,7),16)];}
function colorFor(v){
  const c=Math.max(0,Math.min(valueMax,v));
  for(let i=1;i<colorStops.length;i++){
    if(c<=colorStops[i][0]){
      const a=colorStops[i-1],b=colorStops[i];
      const t=(c-a[0])/(b[0]-a[0]);
      const ca=hexToRgb(a[1]),cb=hexToRgb(b[1]);
      return 'rgb('+Math.round(ca[0]+(cb[0]-ca[0])*t)+','+Math.round(ca[1]+(cb[1]-ca[1])*t)+','+Math.round(ca[2]+(cb[2]-ca[2])*t)+')';
    }
  }
  return colorStops[colorStops.length-1][1];
}

const NS='http://www.w3.org/2000/svg';
const svg=document.getElementById('figure');
function mk(tag,attrs,parent){
  const el=document.createElementNS(NS,tag);
  for(const k in attrs){el.setAttribute(k,attrs[k]);}
  parent.appendChild(el);
  return el;
}

const defs=mk('defs',{},svg);
const cbGrad=mk('linearGradient',{id:'cbGrad',x1:0,y1:1,x2:0,y2:0},defs);
colorStops.forEach(function(s){mk('stop',{offset:s[0]/valueMax,'stop-color':s[1]},cbGrad);});

// Figure layout
const rowTop=[30,507,979,1451,1923];
const rowBottom=[415,884.5,1356.5,1828.5,2299.5];
const colLeft=[[87.5,769,1455.5],[87.5,769,1453.5]];
const colRight=[[538,1220,1906],[537,1219,1902.5]];
const cbLeft=[[566,1248,1934.5],[565,1247,1931]];
const heightLabelX=[[36,718,1403],[31,714,1397]];
const cbLabelOffset=[[77,79,77],[83,84,83]];
const axisColor='#222';
// Vertical soft edge of each bin, as fractions of the bin height
const subFractions=[0.1,0.3,0.5,0.7,0.9];

panelSeries.forEach(function(values,idx){
  const row=Math.floor(idx/3), col=idx%3, r=row===0?0:1;
  const x0=colLeft[r][col], x1=colRight[r][col], y0=rowTop[row], y1=rowBottom[row];
  const xs=function(v){return x0+v/xMax*(x1-x0);};
  const ys=function(v){return y1-v/yMax*(y1-y0);};
  const tickFont=r===0?30:31.5, labelFont=r===0?30.6:33.4, cbFont=r===0?26.8:29.6, letterFont=r===0?31:34;

  const g=mk('g',{},svg);
  
  

  // Heatmap cells (each bin softly blended towards its vertical neighbours)
  const heat=mk('g',{'shape-rendering':'crispEdges'},g);
  
  
  values.forEach(function(column,ci){
    if(!column){return;}
    const cx=mlhCenters[ci];
    const left=xs(cx-mlhBinWidth/2), right=xs(cx+mlhBinWidth/2);
    column.forEach(function(v,hi){
      const h=heightBins[hi];
      const below=hi>0?column[hi-1]:v, above=hi<column.length-1?column[hi+1]:v;
      subFractions.forEach(function(f,si){
        let val=v;
        if(f<0.3){val=v+(below-v)*0.5*(0.3-f)/0.3;}
        if(f>0.7){val=v+(above-v)*0.5*(f-0.7)/0.3;}
        const step=heightBinWidth/subFractions.length;
        const bot=ys(h+si*step), top=ys(h+(si+1)*step);
        const cell=mk('rect',{x:left,y:top,width:right-left,height:bot-top+0.4,fill:colorFor(val)},heat);
        
        
      });
    });
    const sep=mk('line',{x1:right,x2:right,y1:ys(yMax),y2:ys(heightBins[0]),stroke:'#fff','stroke-opacity':0.28,'stroke-width':1},heat);
    
    
  });

  panelPaleLines[idx].forEach(function(p){
    const l=xs(p[0]-mlhBinWidth/2), rt=xs(p[0]+mlhBinWidth/2);
    const line=mk('line',{x1:l,x2:rt,y1:ys(p[1]),y2:ys(p[1]),stroke:'#fff','stroke-opacity':0.5,'stroke-width':1.5},g);
    
    
  });
  panelLayers[idx].forEach(function(p){
    const l=xs(p[0]-mlhBinWidth/2), rt=xs(p[0]+mlhBinWidth/2);
    const line=mk('line',{x1:l,x2:rt,y1:ys(p[1]),y2:ys(p[1]),stroke:colorFor(p[2]),'stroke-width':3},g);
    
    
  });

  // 1:1 reference line
  const ref=mk('line',{x1:xs(refLine[0]),y1:ys(refLine[0]),x2:xs(refLine[1]),y2:ys(refLine[1]),stroke:'#111','stroke-width':2.4,'stroke-dasharray':'11 6'},g);
  
  

  // Axes frame
  const frame=mk('rect',{x:x0,y:y0,width:x1-x0,height:y1-y0,fill:'none',stroke:axisColor,'stroke-width':2.6},g);
  
  

  xTicks.forEach(function(t){
    const tick=mk('line',{x1:xs(t),x2:xs(t),y1:y1,y2:y1-8,stroke:axisColor,'stroke-width':2.2},g);
    
    
    const lab=mk('text',{x:xs(t),y:y1+(r===0?31:33),'text-anchor':'middle','font-size':tickFont},g);
    lab.textContent=String(t);
    
    
  });
  yTicks.forEach(function(t){
    const tick=mk('line',{x1:x0,x2:x0+8,y1:ys(t),y2:ys(t),stroke:axisColor,'stroke-width':2.2},g);
    
    
    const lab=mk('text',{x:x0-8,y:ys(t)+tickFont*0.36,'text-anchor':'end','font-size':tickFont},g);
    lab.textContent=String(t);
    
    
  });

  const xTitle=mk('text',{x:(x0+x1)/2,y:y1+(r===0?70:73),'text-anchor':'middle','font-size':labelFont},g);
  xTitle.textContent='MLH (km)';
  
  

  const hx=heightLabelX[r][col], hy=(y0+y1)/2;
  const yTitle=mk('text',{x:hx,y:hy,'text-anchor':'middle','dominant-baseline':'central','font-size':labelFont,transform:'rotate(-90 '+hx+' '+hy+')'},g);
  yTitle.textContent='Height (km)';
  
  

  const letter=mk('text',{x:x0+384,y:y0+39,'font-size':letterFont,'font-weight':'bold'},g);
  letter.textContent=panelLetters[idx];
  
  

  // Colour bar
  const cx0=cbLeft[r][col], cw=19;
  const bar=mk('rect',{x:cx0,y:y0,width:cw,height:y1-y0,fill:'url(#cbGrad)',stroke:axisColor,'stroke-width':1.6},g);
  
  
  const vs=function(v){return y1-v/valueMax*(y1-y0);};
  colorbarTicks.forEach(function(t){
    const tick=mk('line',{x1:cx0+cw,x2:cx0+cw+7,y1:vs(t),y2:vs(t),stroke:axisColor,'stroke-width':2},g);
    
    
    const lab=mk('text',{x:cx0+cw+13,y:vs(t)+tickFont*0.36,'font-size':tickFont},g);
    lab.textContent=String(t);
    
    
  });
  const lx=cx0+cw+cbLabelOffset[r][col], ly=(y0+y1)/2;
  const cbTitle=mk('text',{x:lx,y:ly,'text-anchor':'middle','dominant-baseline':'central','font-size':cbFont,transform:'rotate(-90 '+lx+' '+ly+')'},g);
  cbTitle.textContent=colorbarTitles[col]+'(';
  const mu=mk('tspan',{'font-style':'italic'},cbTitle);
  mu.textContent='μ';
  const unit=mk('tspan',{},cbTitle);
  unit.textContent='g/m';
  const sup=mk('tspan',{dy:-cbFont*0.38,'font-size':cbFont*0.7},cbTitle);
  sup.textContent='3';
  const close=mk('tspan',{dy:cbFont*0.38},cbTitle);
  close.textContent=')';
  
  
});
</script>
</body>
</html>
